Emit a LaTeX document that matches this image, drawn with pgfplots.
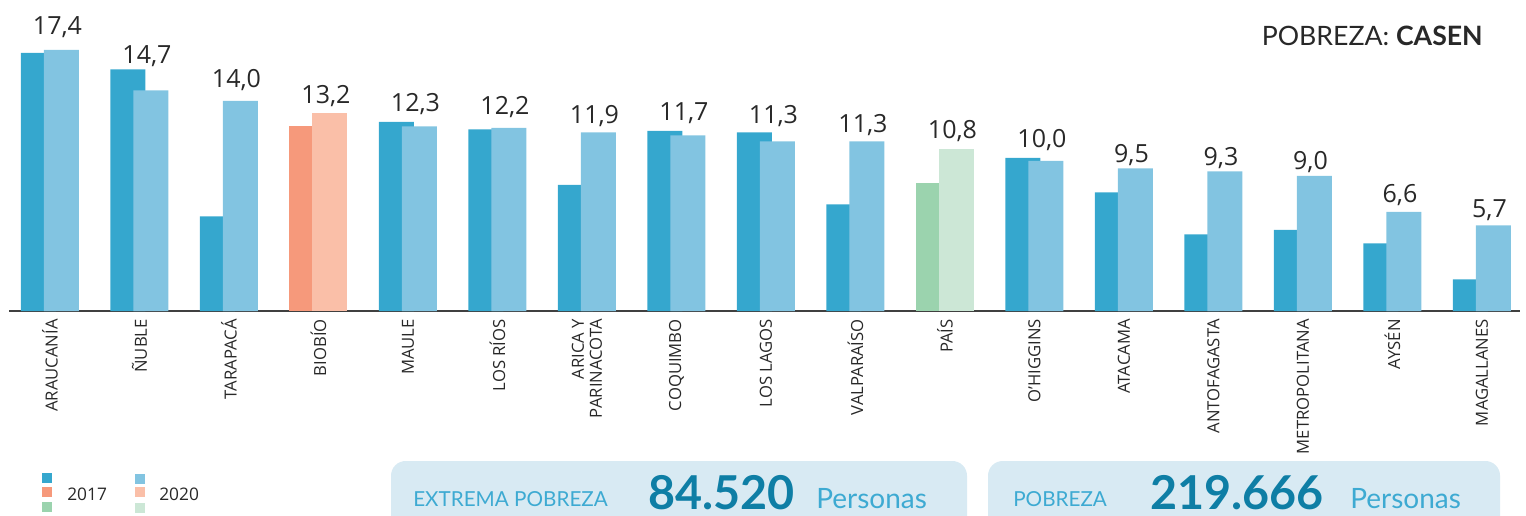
\documentclass[border=0pt]{standalone}
\usepackage{fontspec}
\setmainfont{Open Sans}
\newfontfamily\latofont{Lato}
\usepackage{pgfplots}
\usepackage{pgfplotstable}
\pgfplotsset{compat=1.18}

\definecolor{azul17}{RGB}{53,167,206}
\definecolor{azul20}{RGB}{130,196,225}
\definecolor{nar17}{RGB}{246,153,123}
\definecolor{nar20}{RGB}{250,191,168}
\definecolor{ver17}{RGB}{155,211,174}
\definecolor{ver20}{RGB}{204,231,214}
\definecolor{cajafondo}{RGB}{216,234,243}
\definecolor{cajatexto}{RGB}{61,170,210}
\definecolor{cajanum}{RGB}{14,126,165}
\definecolor{ejegris}{RGB}{64,64,64}
\definecolor{textogris}{RGB}{40,40,40}

% regiones (sin Biobio ni Pais, que van en otro color)
\pgfplotstableread{
x v17 v20
0 17.2 17.4
1 16.1 14.7
2 6.3 14.0
4 12.6 12.3
5 12.1 12.2
6 8.4 11.9
7 12.0 11.7
8 11.9 11.3
9 7.1 11.3
11 10.2 10.0
12 7.9 9.5
13 5.1 9.3
14 5.4 9.0
15 4.5 6.6
16 2.1 5.7
}\regiones

% etiquetas de 2020 y su altura
\pgfplotstableread{
x ly lab
0 18.40 17,4
1 16.53 14,7
2 14.87 14,0
3 13.80 13,2
4 13.33 12,3
5 13.13 12,2
6 12.53 11,9
7 12.67 11,7
8 12.47 11,3
9 11.87 11,3
10 11.53 10,8
11 10.87 10,0
12 9.93 9,5
13 9.73 9,3
14 9.40 9,0
15 7.20 6,6
16 6.20 5,7
}\etiquetas

\begin{document}
\begin{tikzpicture}[x=0.75pt,y=0.75pt]
\path[use as bounding box] (0,0) rectangle (1526,515);

\begin{axis}[
  at={(6.75pt,153pt)}, anchor=south west,
  scale only axis, width=1133.25pt, height=233.25pt,
  xmin=-0.458, xmax=16.425, ymin=0, ymax=20.73,
  ybar, bar width=26.25pt,
  axis y line=none, axis x line=bottom,
  x axis line style={-, draw=ejegris, line width=1.5pt},
  xtick={0,...,16}, major tick length=0pt,
  xticklabels={ARAUCANÍA, ÑUBLE, TARAPACÁ, BIOBÍO, MAULE, LOS RÍOS,
    {ARICA Y\\PARINACOTA}, COQUIMBO, LOS LAGOS, VALPARAÍSO, PAÍS,
    O'HIGGINS, ATACAMA, ANTOFAGASTA, METROPOLITANA, AYSÉN, MAGALLANES},
  x tick label style={font=\fontsize{12.5}{13.5}\selectfont, text=textogris,
    rotate=90, anchor=east, align=right, inner xsep=6pt, inner ysep=0pt},
  clip=false,
]
\addplot[fill=azul17, draw=none, bar shift=-8.625pt] table[x=x,y=v17]{\regiones};
\addplot[fill=nar17, draw=none, bar shift=-8.625pt] coordinates {(3,12.3)};
\addplot[fill=ver17, draw=none, bar shift=-8.625pt] coordinates {(10,8.5)};
\addplot[fill=azul20, draw=none, bar shift=8.625pt] table[x=x,y=v20]{\regiones};
\addplot[fill=nar20, draw=none, bar shift=8.625pt] coordinates {(3,13.2)};
\addplot[fill=ver20, draw=none, bar shift=8.625pt] coordinates {(10,10.8)};
\addplot[draw=none, fill=none, bar shift=5.625pt, nodes near coords,
  point meta=explicit symbolic,
  every node near coord/.append style={anchor=base, inner sep=0pt,
    font=\fontsize{18.75}{20}\selectfont, text=textogris}]
  table[x=x,y=ly,meta=lab]{\etiquetas};
\end{axis}

% titulo
\node[anchor=base east, inner sep=0pt, text=textogris,
  font=\latofont\fontsize{20}{22}\selectfont] at (1483,469)
  {POBREZA: \textbf{CASEN}};

% leyenda
\fill[azul17] (42,32) rectangle (52,42);
\fill[nar17] (42,18) rectangle (52,28);
\fill[ver17] (42,3) rectangle (52,13);
\fill[azul20] (135,31) rectangle (145,41);
\fill[nar20] (135,18) rectangle (145,28);
\fill[ver20] (135,2) rectangle (145,12);
\node[anchor=base west, inner sep=0pt, text=textogris,
  font=\fontsize{13}{14}\selectfont] at (67,15) {2017};
\node[anchor=base west, inner sep=0pt, text=textogris,
  font=\fontsize{13}{14}\selectfont] at (159,15) {2020};

% recuadros inferiores
\fill[cajafondo, rounded corners=11pt] (391,-40) rectangle (967,54);
\fill[cajafondo, rounded corners=11pt] (988,-40) rectangle (1500,54);
\begin{scope}[every node/.style={anchor=base west, inner sep=0pt}]
\node[text=cajatexto, font=\latofont\fontsize{15.5}{17}\selectfont] at (413,9) {EXTREMA POBREZA};
\node[text=cajanum, font=\latofont\bfseries\fontsize{35}{38}\selectfont] at (648,6) {84.520};
\node[text=cajatexto, font=\latofont\fontsize{21}{23}\selectfont] at (816,7) {Personas};
\node[text=cajatexto, font=\latofont\fontsize{15.5}{17}\selectfont] at (1013,9) {POBREZA};
\node[text=cajanum, font=\latofont\bfseries\fontsize{35}{38}\selectfont] at (1150,6) {219.666};
\node[text=cajatexto, font=\latofont\fontsize{21}{23}\selectfont] at (1350,7) {Personas};
\end{scope}
\end{tikzpicture}
\end{document}
